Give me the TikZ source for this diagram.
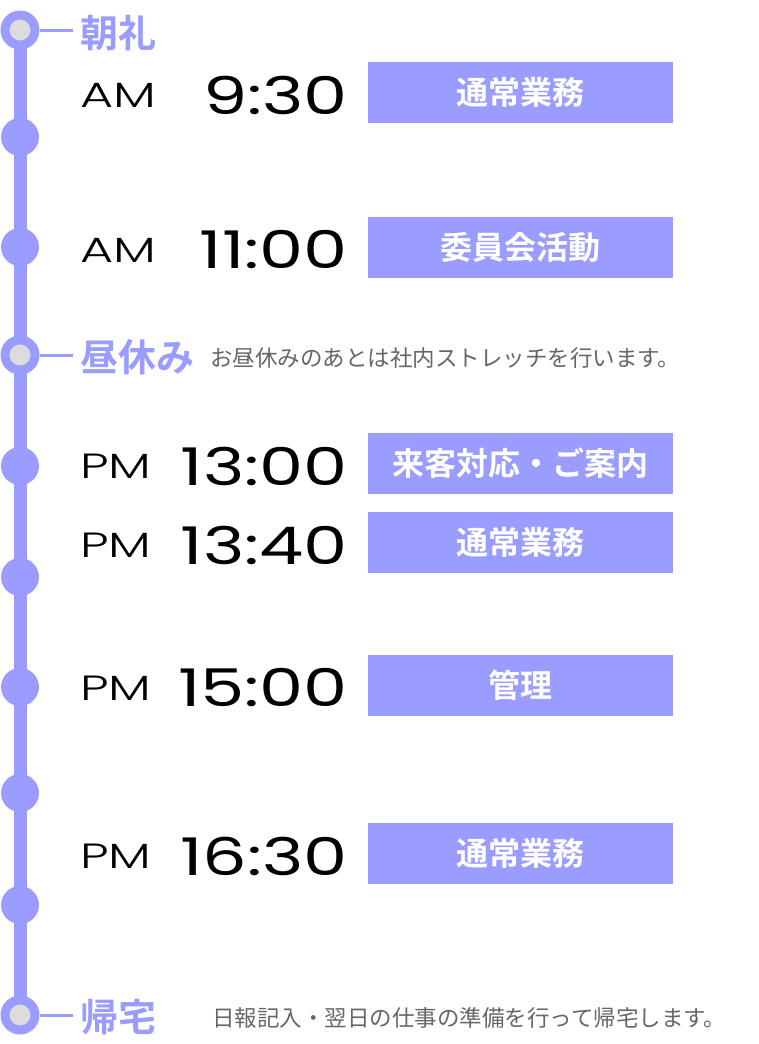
\documentclass[tikz,border=0pt]{standalone}
\usepackage{fontspec}
\newfontfamily\jp{Noto Sans CJK JP}
\newfontfamily\jpb{Noto Sans CJK JP Bold}
\newfontfamily\tm[FakeStretch=1.35]{Poppins}
\newfontfamily\tml[FakeStretch=1.45]{Poppins Light}
\definecolor{lav}{HTML}{9A9CFF}
\definecolor{gr}{HTML}{DCDCDC}
\definecolor{tx}{HTML}{666666}
\begin{document}
\begin{tikzpicture}[x=1pt,y=-1pt,
  dot/.style={circle,fill=lav,minimum size=38pt,inner sep=0},
  hol/.style={circle,fill=gr,draw=lav,line width=9pt,minimum size=30pt,inner sep=0},
  box/.style={fill=lav,minimum width=305pt,minimum height=61pt,inner sep=0,text=white,font=\jpb\fontsize{32}{32}\selectfont},
  head/.style={anchor=west,text=lav,font=\jpb\fontsize{38}{38}\selectfont,inner sep=0},
  note/.style={anchor=west,text=tx,font=\jp\fontsize{22.5}{22.5}\selectfont,inner sep=0},
  ap/.style={anchor=west,font=\tml\fontsize{35}{35}\selectfont,inner sep=0},
  time/.style={anchor=east,font=\tm\fontsize{52}{52}\selectfont,inner sep=0}]
\useasboundingbox (0,0) rectangle (759,1044);
\draw[lav,line width=13pt] (20,30) -- (20,1015);
\node[hol] (h1) at (20,30) {};
\node[hol] (h2) at (20,355) {};
\node[hol] (h3) at (20,1015) {};
\foreach \y/\n in {137/d1,247/d2,466/d3,577/d4,687/d5,793/d6,905/d7}
  \node[dot] (\n) at (20,\y) {};
\node[head] (t1) at (80,33) {朝礼};
\node[head] (t2) at (80,357) {昼休み};
\node[head] (t3) at (80,1017) {帰宅};
\coordinate (e1) at (73,30);
\coordinate (e2) at (73,355);
\coordinate (e3) at (73,1015);
\draw[lav,line width=3pt] (h1) -- (e1);
\draw[lav,line width=3pt] (h2) -- (e2);
\draw[lav,line width=3pt] (h3) -- (e3);
\node[note] (n1) at (210,358) {お昼休みのあとは社内ストレッチを行います。};
\node[note] (n2) at (212,1018) {日報記入・翌日の仕事の準備を行って帰宅します。};
\foreach \y/\a/\t/\b/\n in {95/AM/9:30/通常業務/r1,250/AM/11:00/委員会活動/r2,466/PM/13:00/来客対応・ご案内/r3,545/PM/13:40/通常業務/r4,688/PM/15:00/管理/r5,856/PM/16:30/通常業務/r6}{
  \node[ap] (a\n) at (80,\y) {\a};
  \node[time] (t\n) at (348,\y) {\t};
  \node[box] (b\n) at (520.5,\y-3) {\b};
}
\end{tikzpicture}
\end{document}
